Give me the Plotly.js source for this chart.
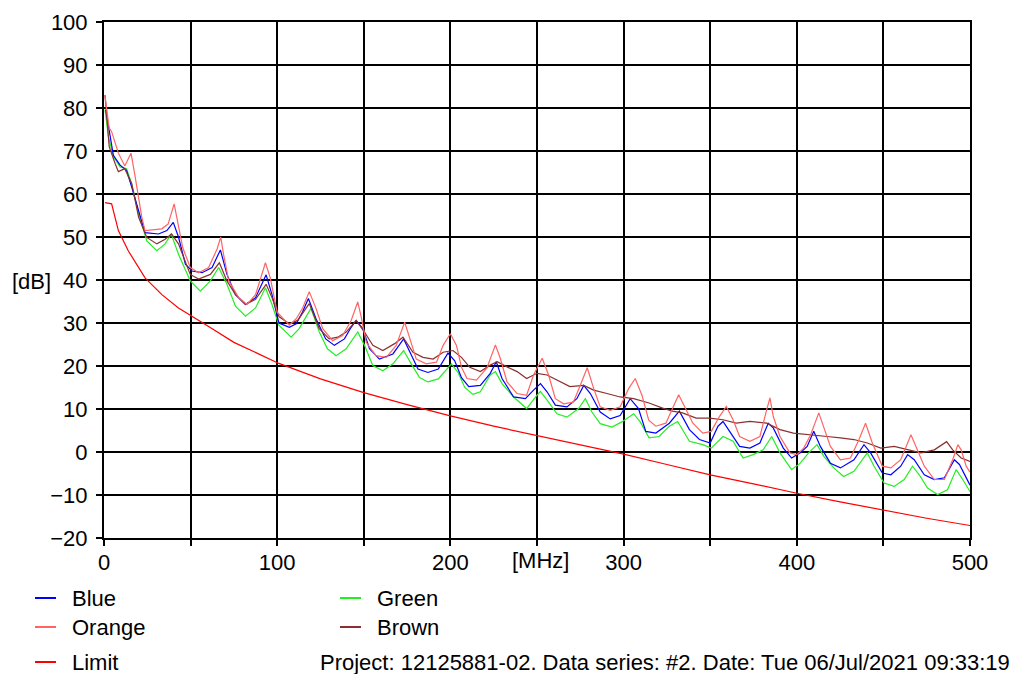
<!DOCTYPE html>
<html>
<head>
<meta charset="utf-8">
<script src="https://cdn.plot.ly/plotly-3.0.1.min.js"></script>
<style>
html,body{margin:0;padding:0;background:#fff;}
#chart{width:1014px;height:674px;}
</style>
</head>
<body>
<div id="chart"></div>
<script>
// ---- data ----
const blueFreq = [1,3.5,5.4,9.3,13,16,19,23.7,31.5,36.3,40,43,47,50.8,56.6,62.4,67.2,71,75.9,81.7,87.5,93.6,97,101,
  107,111,114.7,118,122.4,128,133,138.8,142.7,145.6,149.4,153.3,159,166.8,173,176.5,181.3,187,193,198.6,202.5,206.4,
  210.6,217.3,223,226.5,229.8,236.5,243.3,248,252,255.8,260.6,267.3,273,277,280.8,286.5,292.3,298,303.8,308.6,
  312.8,318.6,326.4,332.2,338,343.8,350,354.5,357.4,361.2,367,372.9,378.7,383.5,386.4,392.2,397,
  402,406,409.8,413.6,419.4,425.2,433,438.8,442.6,449.4,454.3,460,464,467.8,473.6,479.4,485.2,491,493.9,500];
const blueDb = [79.6,73.7,69,66.7,65.5,61.6,57.3,51,50.7,51.5,53.4,50,43.7,42.1,41.7,42.9,47,41.3,36.6,34.3,35.9,41.2,36.6,30,
  29,29.8,32.6,35.7,31,26.3,24.8,26.3,29,30.6,28.7,24,21.6,22.8,26.3,23.2,19.3,18.5,19.3,23,21.2,17.3,
  15.2,15.5,18.3,21,17.1,12.8,12.4,14.4,15.9,14,10.9,10.5,12.4,15.5,13.6,9.3,7.7,8.5,12.4,10.1,
  4.8,4.4,6.7,9.5,5.2,2.9,2.1,6,7.1,4.8,1.3,0.9,2.1,6.7,5.6,0.9,-1.4,
  -0.2,1.3,4.8,1.3,-2.6,-3.7,-1.8,1.7,-0.2,-4.9,-5.3,-3.3,-0.6,-1.8,-5.3,-6.4,-6,-1.8,-2.9,-7.7];

const orangeFreq = [0.5,3,4.4,8.3,12,15.6,18,21.8,23.7,33.4,37,40.5,42,45.4,49.8,54.6,60.4,65.3,67.4,69,72,77.8,82.6,87.5,93.2,96,100,
  107,111,114.7,118.5,122.4,126.3,132,137.8,142.7,146.5,148.5,151.4,157,163,168.7,173.6,176.5,180.3,186,192,195.8,200,203.5,206.4,
  209.6,215,221,226,228.8,232.7,238.5,244,248,253,256.7,260.6,265.4,271,275,279,282.7,286.5,292.3,298,303,306.7,310.6,314.5,
  318.6,324.4,331.8,335,340,345.7,350.6,355.4,359.3,363.2,367,372.9,378.7,382.6,384.5,386.4,390.3,396,400,404,
  408,412.7,415.5,419.4,425.2,431,435.9,439.7,443.6,449.4,454.3,460,464,465.9,468.8,473.6,479.4,485.2,490,493,494.9,497.8,500];
const orangeDb = [83,75.3,74.5,69.5,66.5,69.5,64,54.6,51.5,51.9,53,57.7,54.6,47.6,42.9,41.7,42.9,47.2,50,46,39.8,35.9,34.3,36.6,44,40.5,32.5,
  29.5,31,33.5,37.3,33.4,28.7,25.9,27.1,30.6,34.9,31.4,25.5,22.4,22,24.8,30.2,26.3,21.6,20.5,20.9,24.8,27.5,24.8,19.7,
  17.1,16.7,19.5,24.9,21.8,16.3,13.6,13.2,17.9,21.8,17.9,12.4,11.2,11.6,15.5,19.6,14.8,10.5,9.7,10.5,14.8,17.1,13.2,7.4,
  6,6.7,13.3,10.6,6.7,4.4,4.8,8.3,10.6,7.5,3.6,2.5,3.6,9.8,12.6,8.3,3.6,-0.2,-0.6,0.9,
  4,9.1,6,1.3,-1.8,-1.4,2.9,6.7,2.1,-3.3,-3.7,-1.8,2.1,4,1.3,-3.3,-6.4,-6.4,-1.8,1.7,0.5,-3.3,-4.7];

const greenFreq = [0.6,2.5,5.4,9.3,13,16,20,24.7,30.5,35.3,38.8,43,49.8,55.6,61.4,66.2,71,75.9,81.7,87.5,93.2,97,101,
  108,112.7,119.5,124.3,129,134,139.8,146.5,150.4,155.2,161,166.8,173,177.4,182.2,187,193,200.6,204.4,208.3,213,
  217.3,223,226,229.8,236.5,244,250,252,256.7,261.5,267.3,274,277.9,281.7,286.5,293.3,299,305.8,309.6,
  314.7,320.5,326.4,331.2,338,345.7,350.6,357.4,363.2,369,374.8,380.6,385.5,390.3,397,
  402,406.8,411.7,415.6,421.4,427,433,440.7,444.6,450.4,456.2,462,466.8,470.7,475.5,481.3,487,492,495.8,500];
const greenDb = [79.6,73.4,68.7,66.3,65.9,62.4,55.4,49.1,46.8,48.4,50.7,46,39.8,37.4,39.8,42.9,39,33.9,31.6,33.5,38.2,34.3,29.5,
  26.7,28.7,33.4,27.9,24,22.4,24,27.9,24.8,20.1,18.9,20.5,23.6,20.5,17.3,16.3,17,20.5,18.5,15,13.4,
  14,17.9,18.7,15.9,12.8,10.1,13.2,14.1,11.6,8.9,8.1,10.1,12.4,9.3,6.6,5.8,7,8.9,7,
  3.3,3.6,6,7.1,2.5,1.7,0.9,3.6,2.5,-1.4,-0.6,0.5,3.6,-0.2,-4.1,
  -2.6,-0.2,1.7,-1,-3.7,-5.7,-4.5,-0.2,-3.3,-7.2,-8,-6.4,-3.3,-5.3,-8.4,-9.9,-8.8,-4.1,-6.4,-9.2];

const brownFreq = [0.6,3,6.4,8.3,12,16,20,24.7,30.5,35.3,39,43,49.8,54.6,61.4,66.6,71,75.9,81.7,87.5,93.6,97,101,
  107,111.8,118.5,124.3,130,135,139.8,145.6,150.4,155.2,161,167.8,172.6,178.4,184.2,190,195.8,201.5,206.4,211.2,
  217.3,223,227,232.7,238.5,244,250,255.8,263.5,269,277,282.7,290.4,298,305.8,
  314.7,322.5,328.3,334,341.9,349.6,357.4,365,372.9,382.6,390.3,398,
  409.8,417.5,425.2,433,440.7,448.5,456.2,464,471.7,479.4,486.5,490,494.9,500];
const brownDb = [83,71,67.1,65.2,65.9,62.4,54.6,49.9,48.4,49.5,50.7,48.4,41.3,40.2,41.3,44,39.8,36.6,34.3,35.5,39,35.9,31.5,
  29.8,30.6,34.5,28.7,26.3,26.7,27.9,30.6,27.9,24.8,23.6,25.2,26.7,23.2,22,21.6,23.2,23.6,22,19.7,
  18.7,20.2,21,19.8,18.7,17.1,18.3,17.9,16.3,15.2,15.5,14.4,13.6,12.8,12.4,
  11.4,10.2,9.5,9.1,7.9,7.9,7.5,6.7,7.1,6.7,5.2,4.4,
  4,3.6,3.3,2.9,2.1,0.9,1.3,0.5,-0.2,0.5,2.4,0.5,-1.4,-2.2];

const limitFreq = [0.6,4.4,8.3,14,23.7,33.4,43,52.7,60.4,75,101,125,150,175,200,225,250,275,300,325,350,375,400,425,450,475,500];
const limitDb = [58,57.7,51.5,46.8,40.5,36.6,33.5,31.2,29.2,25.5,20.6,17,13.8,11,8.4,6,3.8,1.6,-0.5,-2.9,-5.3,-7.4,-9.6,-11.6,-13.5,-15.4,-17.1];

const xTickVals = [0,50,100,150,200,250,300,350,400,450,500];
const xTickText = ['0','','100','','200','','300','','400','','500'];
const yTickVals = [-20,-10,0,10,20,30,40,50,60,70,80,90,100];
const seriesNames = ['Blue','Orange','Green','Brown','Limit'];
const xUnit = '[MHz]';
const yUnit = '[dB]';
const footer = 'Project: 12125881-02. Data series: #2. Date: Tue 06/Jul/2021 09:33:19';

// ---- styling / layout ----
const colors = {Blue:'#0000ff', Orange:'#ff6464', Green:'#22ee22', Brown:'#8b3030', Limit:'#ff0000'};
const FONT = '"Liberation Sans", Arial, sans-serif';
const FS = 22;
const W = 1014, H = 674, L = 104, R = 44, T = 22, B = 136;
const pw = W - L - R, ph = H - T - B;
const px2x = p => (p - L) / pw;
const py2y = p => (H - B - p) / ph;

function tr(name, x, y){
  return {x:x, y:y, type:'scatter', mode:'lines', name:name,
    line:{color:colors[name], width:1.2}, hoverinfo:'skip'};
}
const data = [
  tr('Green', greenFreq, greenDb),
  tr('Blue', blueFreq, blueDb),
  tr('Brown', brownFreq, brownDb),
  tr('Orange', orangeFreq, orangeDb),
  tr('Limit', limitFreq, limitDb)
];

// custom legend (positions in px)
const legendPos = {
  Blue:[35,598], Orange:[35,627], Green:[340,598], Brown:[340,627], Limit:[35,662]
};
const shapes = [];
const annotations = [];
seriesNames.forEach(n => {
  const [lx, ly] = legendPos[n];
  shapes.push({type:'line', xref:'paper', yref:'paper',
    x0:px2x(lx), x1:px2x(lx+21), y0:py2y(ly), y1:py2y(ly),
    line:{color:colors[n], width:2}});
  annotations.push({xref:'paper', yref:'paper', x:px2x(lx+35), y:py2y(ly),
    xanchor:'left', yanchor:'middle', showarrow:false, text:n,
    font:{family:FONT, size:FS, color:'#000'}});
});
annotations.push({xref:'paper', yref:'paper', x:px2x(1012), y:py2y(662),
  xanchor:'right', yanchor:'middle', showarrow:false, text:footer,
  font:{family:FONT, size:FS, color:'#000'}});
annotations.push({xref:'paper', yref:'paper', x:px2x(540), y:py2y(560),
  xanchor:'center', yanchor:'middle', showarrow:false, text:xUnit,
  font:{family:FONT, size:FS, color:'#000'}});
annotations.push({xref:'paper', yref:'paper', x:px2x(31), y:py2y(281),
  xanchor:'center', yanchor:'middle', showarrow:false, text:yUnit,
  font:{family:FONT, size:FS, color:'#000'}});

const axisCommon = {
  showgrid:true, gridcolor:'#000', gridwidth:2,
  showline:true, linecolor:'#000', linewidth:2, mirror:true,
  zeroline:false, ticks:'outside', ticklen:6, tickwidth:2, tickcolor:'#000',
  tickfont:{family:FONT, size:FS, color:'#000'}, fixedrange:true
};
const layout = {
  width:W, height:H,
  margin:{l:L, r:R, t:T, b:B, pad:0},
  paper_bgcolor:'#fff', plot_bgcolor:'#fff',
  showlegend:false,
  xaxis:Object.assign({}, axisCommon, {range:[0,500], tickmode:'array', tickvals:xTickVals, ticktext:xTickText, ticklabelstandoff:-2}),
  yaxis:Object.assign({}, axisCommon, {range:[-20,100], tickmode:'array', tickvals:yTickVals, ticklabelstandoff:4}),
  shapes:shapes,
  annotations:annotations
};
Plotly.newPlot('chart', data, layout, {staticPlot:true, displayModeBar:false});
</script>
</body>
</html>
